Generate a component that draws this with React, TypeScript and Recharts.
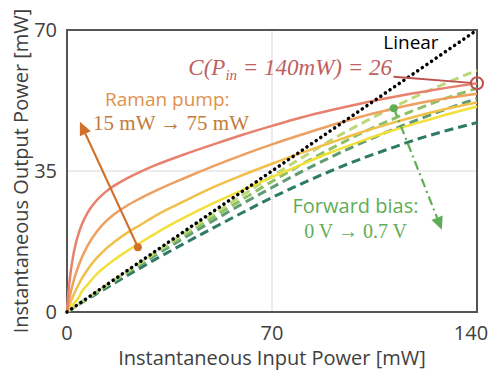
import React from 'react';
import { LineChart, Line, XAxis, YAxis, CartesianGrid, ReferenceLine, ReferenceDot, ReferenceArea } from 'recharts';

const inputPower = [0, 0.5, 1, 2, 3, 4, 5, 7, 10, 13, 16, 20, 25, 30, 40, 50, 60, 70, 80, 90, 100, 110, 120, 130, 140];
// Raman pump curves (75 mW -> 15 mW)
const pump75 = [0, 5, 8.5, 13.5, 17, 19.6, 21.6, 24.6, 27.6, 29.7, 31.3, 33, 34.8, 36.4, 39.1, 41.6, 44, 46.2, 48.3, 50.1, 51.7, 53.2, 54.5, 55.7, 56.8];
const pump55 = [0, 2.2, 4, 7, 9.5, 11.6, 13.4, 16.4, 19.8, 22.3, 24.2, 26.2, 28.2, 30, 33.2, 36.2, 39, 41.6, 44, 46.3, 48.4, 50.2, 51.8, 53.1, 54.2];
const pump35 = [0, 1, 2, 3.8, 5.4, 6.9, 8.2, 10.5, 13.3, 15.5, 17.3, 19.4, 21.6, 23.8, 27.5, 31, 34, 36.8, 39.5, 42, 44.5, 46.7, 48.7, 50.5, 52];
const pump15 = [0, 0.45, 0.9, 1.8, 2.7, 3.6, 5, 6.8, 9.3, 11.2, 12.9, 14.9, 17.2, 19.4, 23.4, 27, 30.3, 33.5, 36.6, 39.6, 42.3, 44.8, 47, 49.1, 51];
// Forward bias curves (0 V -> 0.7 V)
const bias00 = [0, 0.25, 0.5, 1, 1.5, 2, 2.5, 3.5, 4.9, 6.4, 7.8, 9.8, 12.2, 14.7, 19.5, 24.3, 29, 33.7, 38.2, 42.6, 46.6, 50.3, 53.8, 57, 60];
const bias02 = [0, 0.245, 0.49, 0.98, 1.47, 1.96, 2.45, 3.4, 4.85, 6.3, 7.75, 9.6, 12, 14.4, 19, 23.6, 28, 32.4, 36.6, 40.5, 44.2, 47.5, 50.5, 53.2, 55.5];
const bias05 = [0, 0.24, 0.48, 0.96, 1.44, 1.92, 2.4, 3.35, 4.75, 6.15, 7.55, 9.4, 11.7, 14, 18.4, 22.7, 26.9, 30.9, 34.8, 38.4, 41.8, 44.9, 47.8, 50.5, 53];
const bias07 = [0, 0.23, 0.46, 0.92, 1.38, 1.84, 2.3, 3.2, 4.5, 5.8, 7.1, 8.8, 10.9, 13, 17, 20.9, 24.7, 28.4, 31.8, 35, 37.9, 40.5, 43, 45.1, 47];

const xTicks = [0, 70, 140];
const yTicks = [0, 35, 70];

const data = inputPower.map((x, i) => ({
  x,
  lin: x / 2,
  p75: pump75[i], p55: pump55[i], p35: pump35[i], p15: pump15[i],
  b00: bias00[i], b02: bias02[i], b05: bias05[i], b07: bias07[i],
}));

const SANS = '"Open Sans", "Liberation Sans", sans-serif';
const SERIF = '"Liberation Serif", "DejaVu Serif", serif';

const arrowShape = (color: string, dash?: string) => (p: any) => {
  const { x1, y1, x2, y2 } = p;
  const ang = Math.atan2(y2 - y1, x2 - x1);
  const L = 13, W = 6;
  const bx = x2 - L * Math.cos(ang), by = y2 - L * Math.sin(ang);
  const lx = bx + W * Math.sin(ang), ly = by - W * Math.cos(ang);
  const rx = bx - W * Math.sin(ang), ry = by + W * Math.cos(ang);
  return (
    <g>
      <line x1={x1} y1={y1} x2={bx} y2={by} stroke={color} strokeWidth={2.2} strokeDasharray={dash} />
      <polygon points={`${x2},${y2} ${lx},${ly} ${rx},${ry}`} fill={color} />
    </g>
  );
};

const textShape = (content: React.ReactNode, style: any) => (p: any) => (
  <text x={p.cx} y={p.cy} {...style}>{content}</text>
);

const XTick = (p: any) => {
  const last = p.payload.value === xTicks[xTicks.length - 1];
  return (
    <text x={last ? p.x - 6 : p.x} y={312 + 28} textAnchor="middle" fontSize={20} fill="#404040" fontFamily={SANS}>
      {p.payload.value}
    </text>
  );
};

const mathText = (
  <>
    <tspan>C(P</tspan>
    <tspan fontSize={15} dy={5}>in</tspan>
    <tspan dy={-5}> = 140mW) = 26</tspan>
  </>
);

export default function App() {
  return (
    <div style={{ position: 'absolute', left: 0, top: 0, background: '#fff' }}>
      <LineChart width={492} height={375} data={data} margin={{ top: 30, right: 15, left: 0, bottom: 0 }}>
        <CartesianGrid stroke="#d9d9d9" strokeWidth={1} />
        <XAxis
          dataKey="x" type="number" domain={[0, 140]} ticks={xTicks} height={63}
          axisLine={false} tickLine={false}
          tick={XTick}
          label={{
            content: (pr: any) => {
              const vb = pr.viewBox;
              return (
                <text x={vb.x + vb.width / 2} y={vb.y + 53} textAnchor="middle" fontSize={20} fill="#404040" fontFamily={SANS}>
                  Instantaneous Input Power [mW]
                </text>
              );
            },
          }}
        />
        <YAxis
          type="number" domain={[0, 70]} ticks={yTicks} width={67}
          axisLine={false} tickLine={false}
          tick={{ fontSize: 20, fill: '#404040', fontFamily: SANS, dx: -2 }}
          label={{
            content: (pr: any) => {
              const vb = pr.viewBox;
              const cx = 20, cy = vb.y + vb.height / 2;
              return (
                <text x={cx} y={cy} transform={`rotate(-90 ${cx} ${cy})`} textAnchor="middle" dominantBaseline="central" fontSize={20} fill="#404040" fontFamily={SANS}>
                  Instantaneous Output Power [mW]
                </text>
              );
            },
          }}
        />
        <ReferenceArea x1={0} x2={140} y1={0} y2={70} fill="none" stroke="#555" strokeWidth={2} />

        <Line dataKey="b07" stroke="#2d7a66" strokeWidth={3} strokeDasharray="9 5" dot={false} type="monotone" isAnimationActive={false} />
        <Line dataKey="b05" stroke="#5e9b74" strokeWidth={3} strokeDasharray="9 5" dot={false} type="monotone" isAnimationActive={false} />
        <Line dataKey="b02" stroke="#8dc065" strokeWidth={3} strokeDasharray="9 5" dot={false} type="monotone" isAnimationActive={false} />
        <Line dataKey="b00" stroke="#bcd878" strokeWidth={3} strokeDasharray="9 5" dot={false} type="monotone" isAnimationActive={false} />

        <Line dataKey="p15" stroke="#f2e03a" strokeWidth={2.5} dot={false} type="monotone" isAnimationActive={false} />
        <Line dataKey="p35" stroke="#f0c04a" strokeWidth={2.5} dot={false} type="monotone" isAnimationActive={false} />
        <Line dataKey="p55" stroke="#eda060" strokeWidth={2.5} dot={false} type="monotone" isAnimationActive={false} />
        <Line dataKey="p75" stroke="#e8806e" strokeWidth={2.5} dot={false} type="monotone" isAnimationActive={false} />

        <Line dataKey="lin" stroke="#000" strokeWidth={3.5} strokeDasharray="0.1 5.5" strokeLinecap="round" dot={false} type="linear" isAnimationActive={false} />

        <ReferenceLine segment={[{ x: 24.2, y: 16.1 }, { x: 4.4, y: 47.2 }]} shape={arrowShape('#d0702a')} />
        <ReferenceDot x={24.2} y={16.1} r={4} fill="#d0702a" stroke="none" />
        <ReferenceLine segment={[{ x: 111.6, y: 50.6 }, { x: 128, y: 20.4 }]} shape={arrowShape('#5fad56', '9 4 2 4')} />
        <ReferenceDot x={111.6} y={50.6} r={4} fill="#5fad56" stroke="none" />

        <ReferenceLine segment={[{ x: 111.5, y: 58.4 }, { x: 138, y: 56.9 }]} stroke="#c05050" strokeWidth={1.8} />
        <ReferenceDot x={140} y={56.8} r={6} fill="none" stroke="#c05050" strokeWidth={2} />

        <ReferenceDot x={111} y={58.8} shape={textShape(mathText, { textAnchor: 'end', fontSize: 23, fill: '#c06060', fontFamily: SERIF, fontStyle: 'italic' })} />
        <ReferenceDot x={108} y={65.2} shape={textShape('Linear', { fontSize: 19, fill: '#000', fontFamily: SANS })} />
        <ReferenceDot x={13} y={51.2} shape={textShape('Raman pump:', { fontSize: 19, fill: '#e0904c', fontFamily: SANS })} />
        <ReferenceDot x={8.9} y={45.1} shape={textShape('15 mW → 75 mW', { fontSize: 21, fill: '#c47a3c', fontFamily: SERIF })} />
        <ReferenceDot x={77} y={24.6} shape={textShape('Forward bias:', { fontSize: 20, fill: '#5fad56', fontFamily: SANS })} />
        <ReferenceDot x={81} y={18.4} shape={textShape('0 V → 0.7 V', { fontSize: 20, fill: '#5fad56', fontFamily: SERIF })} />
      </LineChart>
    </div>
  );
}
